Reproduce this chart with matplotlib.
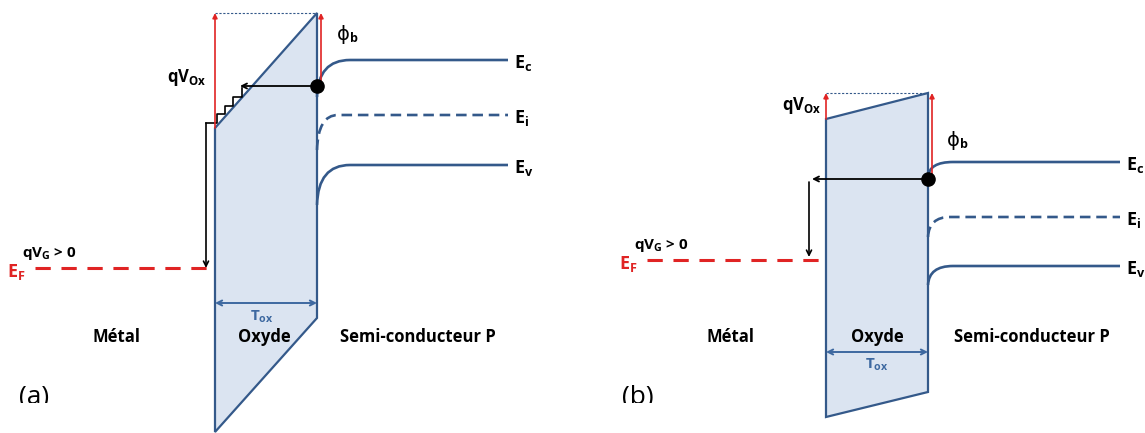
import numpy as np
import matplotlib
matplotlib.use("Agg")
import matplotlib.pyplot as plt
from matplotlib.path import Path
from matplotlib.patches import PathPatch, Polygon, Rectangle

plt.rcParams['font.family'] = ['Open Sans', 'DejaVu Sans']
plt.rcParams['mathtext.fontset'] = 'custom'
plt.rcParams['mathtext.rm'] = 'Open Sans:bold'
plt.rcParams['mathtext.bf'] = 'Open Sans:bold'
plt.rcParams['mathtext.it'] = 'Open Sans:bold'
plt.rcParams['mathtext.sf'] = 'Open Sans:bold'

BLUE = '#34598a'
FILL = '#dbe4f1'
RED = '#e02424'
TOX = '#3d68a0'

# diagram coordinates in pixels (y downwards)
# oxide polygons
ox_a_x = [215, 317, 317, 215]
ox_a_y = [128, 13, 318, 432]
ox_b_x = [826, 928, 928, 826]
ox_b_y = [119, 93, 392, 417]

# bands in the semiconductor: start at interface, knee, flat level
band_names = ['c', 'i', 'v']
band_a_y0 = [97, 150, 205]
band_a_knee = [350, 338, 350]
band_a_y = [60, 115, 165]
band_a_end = 508
band_b_y0 = [177, 237, 285]
band_b_knee = [953, 950, 953]
band_b_y = [162, 217, 266]
band_b_end = 1120

# metal Fermi level
ef_a = (35, 213, 268)
ef_b = (647, 824, 260)

# tunnelling electron
dot_a = (317, 86)
dot_b = (928, 179)
tip_a = 240
tip_b = 812
stair_x = [206, 217, 217, 225, 225, 233, 233, 242, 242]
stair_y = [123, 123, 114, 114, 106, 106, 97, 97, 88]

fig = plt.figure(figsize=(11.45, 4.33), dpi=100)
ax = fig.add_axes([0, 0, 1, 1])
ax.set_xlim(0, 1145)
ax.set_ylim(433, 0)
ax.axis('off')


def band(x0, y0, xk, y, xe, dashed=False):
    verts = [(x0, y0), (x0 + 1, y), (xk, y), (xe, y)]
    codes = [Path.MOVETO, Path.CURVE3, Path.CURVE3, Path.LINETO]
    p = PathPatch(Path(verts, codes), fill=False, ec=BLUE, lw=1.9,
                  ls=(0, (4, 2.2)) if dashed else '-', capstyle='butt', zorder=3)
    ax.add_patch(p)


def arrow(x0, y0, x1, y1, color, style='->', lw=1.2, ms=10):
    ax.annotate('', xy=(x1, y1), xytext=(x0, y0),
                arrowprops=dict(arrowstyle=style, color=color, lw=lw,
                                mutation_scale=ms, shrinkA=0, shrinkB=0),
                zorder=5)


def phi_b(x, y):
    ax.text(x, y, '\u03d5', fontsize=14, family='DejaVu Sans', ha='center', va='center')
    ax.text(x + 7, y + 4, 'b', fontsize=9, fontweight='bold', ha='left', va='center')


for oxx, oxy, y0s, knees, ys, xe, ef, dot, tip in [
        (ox_a_x, ox_a_y, band_a_y0, band_a_knee, band_a_y, band_a_end, ef_a, dot_a, tip_a),
        (ox_b_x, ox_b_y, band_b_y0, band_b_knee, band_b_y, band_b_end, ef_b, dot_b, tip_b)]:
    ax.add_patch(Polygon(list(zip(oxx, oxy)), closed=True, fc=FILL, ec=BLUE, lw=1.6, zorder=2))
    xi = oxx[1]
    for nm, y0, xk, y in zip(band_names, y0s, knees, ys):
        band(xi, y0, xk, y, xe, dashed=(nm == 'i'))
        ax.text(xe + 6, y + 3, r'$\mathbf{E}_{\mathbf{%s}}$' % nm, fontsize=13,
                ha='left', va='center', color='black')
    # Fermi level of the metal
    ax.plot([ef[0], ef[1]], [ef[2], ef[2]], color=RED, lw=2.2, ls=(0, (5, 3.5)), zorder=3)
    ax.text(ef[0] - 28, ef[2] + 4, r'$\mathbf{E}_{\mathbf{F}}$', fontsize=13, color=RED,
            ha='left', va='center')
    ax.text(ef[0] - 13, ef[2] - 14, r'$\mathbf{qV}_{\mathbf{G}}$ > 0', fontsize=11,
            fontweight='bold', color='black', ha='left', va='center')
    # qVox and phi_b
    top = oxy[1]
    ax.plot([oxx[0], oxx[1]], [top, top], color=BLUE, lw=0.8, ls=(0, (2, 1.5)), zorder=3)
    arrow(oxx[0], oxy[0], oxx[0], top, RED, '-|>', lw=1.2, ms=7)
    arrow(xi + 4, dot[1] + 2, xi + 4, top, RED, '-|>', lw=1.2, ms=7)
    # electron and its path
    ax.scatter([dot[0]], [dot[1]], s=90, color='black', zorder=6)
    arrow(dot[0], dot[1], tip, dot[1], 'black', '->', lw=1.3, ms=9)

# panel (a) extras
ax.plot(stair_x, stair_y, color='black', lw=1.2, zorder=4)
arrow(stair_x[0], stair_y[0], stair_x[0], ef_a[2], 'black', '->', lw=1.2, ms=9)
ax.text(187, 77, r'$\mathbf{qV}_{\mathbf{Ox}}$', fontsize=12, ha='center', va='center')
phi_b(343, 35)
ax.annotate('', xy=(317, 303), xytext=(215, 303),
            arrowprops=dict(arrowstyle='<->', color=TOX, lw=1.4, mutation_scale=9,
                            shrinkA=0, shrinkB=0), zorder=5)
ax.text(262, 317, r'$\mathbf{T}_{\mathbf{ox}}$', fontsize=11, color=TOX, ha='center', va='center')
ax.text(117, 337, 'Métal', fontsize=12, fontweight='bold', ha='center', va='center')
ax.text(264, 337, 'Oxyde', fontsize=12, fontweight='bold', ha='center', va='center')
ax.text(418, 337, 'Semi-conducteur P', fontsize=12, fontweight='bold', ha='center', va='center')
ax.text(34, 404, '(a)', fontsize=19, ha='center', va='baseline')

# panel (b) extras
arrow(809, 182, 809, ef_b[2] - 3, 'black', '->', lw=1.2, ms=9)
ax.text(802, 105, r'$\mathbf{qV}_{\mathbf{Ox}}$', fontsize=12, ha='center', va='center')
phi_b(953, 140)
ax.annotate('', xy=(928, 352), xytext=(826, 352),
            arrowprops=dict(arrowstyle='<->', color=TOX, lw=1.4, mutation_scale=9,
                            shrinkA=0, shrinkB=0), zorder=5)
ax.text(877, 365, r'$\mathbf{T}_{\mathbf{ox}}$', fontsize=11, color=TOX, ha='center', va='center')
ax.text(730, 337, 'Métal', fontsize=12, fontweight='bold', ha='center', va='center')
ax.text(877, 337, 'Oxyde', fontsize=12, fontweight='bold', ha='center', va='center')
ax.text(1032, 337, 'Semi-conducteur P', fontsize=12, fontweight='bold', ha='center', va='center')
ax.text(638, 404, '(b)', fontsize=19, ha='center', va='baseline')

# the panel letters are cut at the bottom in the original
ax.add_patch(Rectangle((0, 403), 160, 40, fc='white', ec='none', zorder=7))
ax.add_patch(Rectangle((600, 403), 160, 40, fc='white', ec='none', zorder=7))

fig.savefig('out.png', dpi=100)
